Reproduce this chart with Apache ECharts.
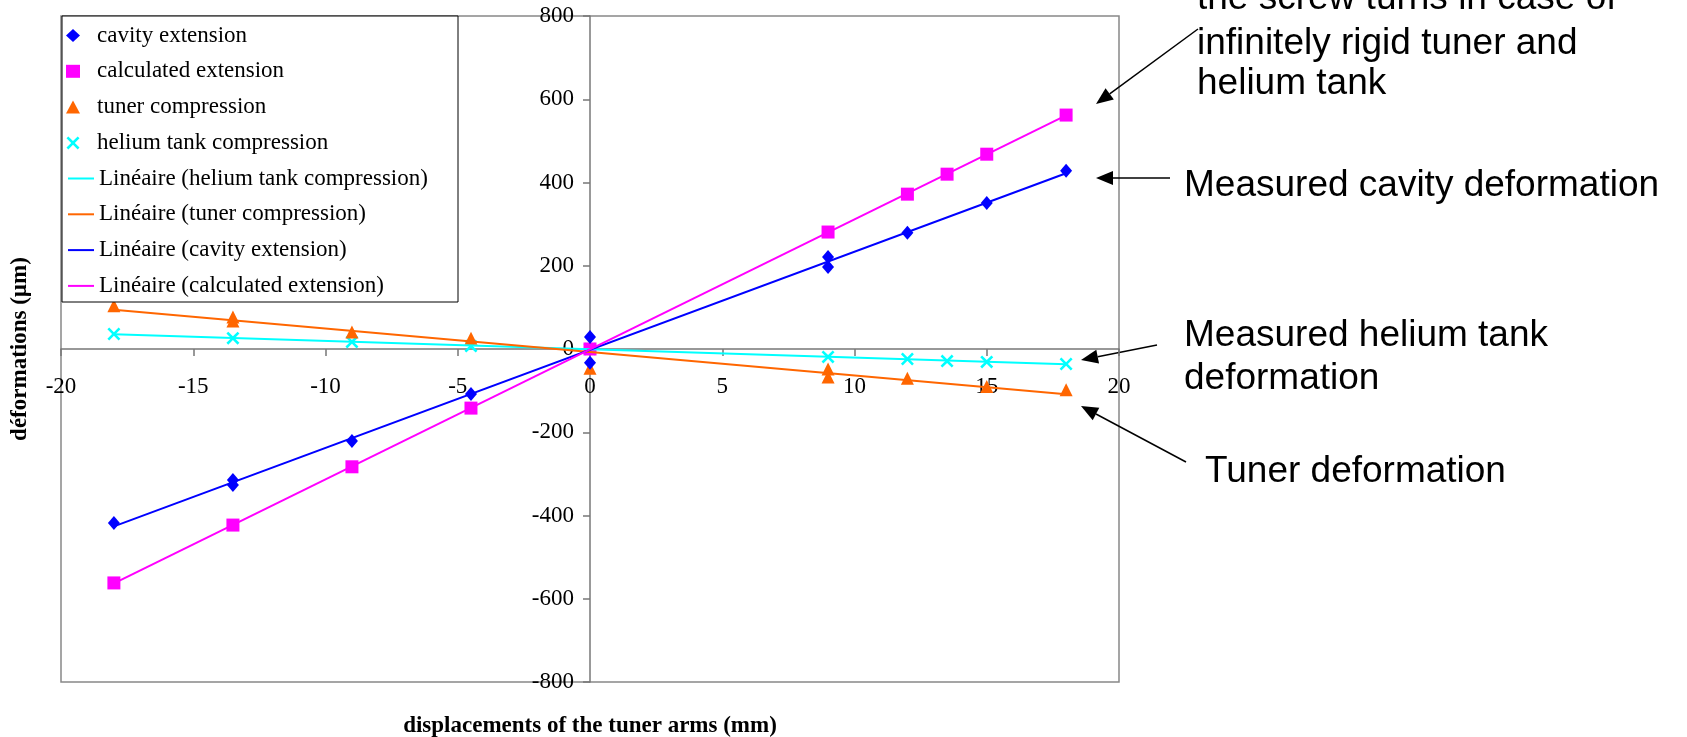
<!DOCTYPE html>
<html>
<head>
<meta charset="utf-8">
<script src="https://cdn.jsdelivr.net/npm/echarts@6/dist/echarts.min.js"></script>
<style>
  html, body { margin: 0; padding: 0; background: #fff; }
  #chart { width: 1687px; height: 737px; }
</style>
</head>
<body>
<div id="chart"></div>
<script>
// measured points (x in mm, y in µm)
const cavityX = [-18, -13.5, -13.5, -9, -4.5, 0, 0, 9, 9, 12, 15, 18];
const cavityY = [-418, -315, -327, -221, -108, 29, -33, 221, 197, 279, 351, 428];
const calcX = [-18, -13.5, -9, -4.5, 0, 9, 12, 13.5, 15, 18];
const calcY = [-562, -423, -283, -142, 0, 281, 372, 420, 468, 562];
const tunerX = [-18, -13.5, -13.5, -9, -4.5, 0, 9, 9, 12, 15, 18];
const tunerY = [104, 77, 67, 41, 26, -46, -48, -67, -70, -90, -98];
const heliumX = [-18, -13.5, -9, -4.5, 0, 9, 12, 13.5, 15, 18];
const heliumY = [36, 26, 17, 7, 0, -19, -24, -29, -31, -36];

const serif = "Liberation Serif";
const sans = "Liberation Sans";

// plot box in pixels; axes are drawn through the origin (middle of the box)
const plot = { left: 61, right: 1119, top: 16, bottom: 682 };

function pairs(xs, ys) {
  return xs.map((x, i) => [x, ys[i]]);
}

// least squares line over the range of the points, like Excel's "Linéaire" trendline
function trend(xs, ys) {
  let n = xs.length, sx = 0, sy = 0, sxx = 0, sxy = 0;
  for (let i = 0; i < n; i++) {
    sx += xs[i]; sy += ys[i]; sxx += xs[i] * xs[i]; sxy += xs[i] * ys[i];
  }
  let b = (n * sxy - sx * sy) / (n * sxx - sx * sx);
  let a = (sy - b * sx) / n;
  let lo = Math.min(...xs), hi = Math.max(...xs);
  return [[lo, a + b * lo], [hi, a + b * hi]];
}

// annotation texts on the right
const notes = [
  { text: "the screw turns in case of", x: 1197, y: 1 },
  { text: "infinitely rigid tuner and", x: 1197, y: 46 },
  { text: "helium tank", x: 1197, y: 86 },
  { text: "Measured cavity deformation", x: 1184, y: 188 },
  { text: "Measured helium tank", x: 1184, y: 338 },
  { text: "deformation", x: 1184, y: 381 },
  { text: "Tuner deformation", x: 1205, y: 474 }
];
// [tailX, tailY, tipX, tipY]
const arrows = [
  [1198, 29, 1096, 104],
  [1170, 178, 1096, 178],
  [1157, 345, 1081, 360],
  [1186, 462, 1081, 406]
];

function arrow(a) {
  let [x1, y1, x2, y2] = a;
  let ang = Math.atan2(y2 - y1, x2 - x1);
  let len = 17, w = 7;
  let bx = x2 - len * Math.cos(ang), by = y2 - len * Math.sin(ang);
  let px = -Math.sin(ang) * w, py = Math.cos(ang) * w;
  return [
    { type: "line", shape: { x1: x1, y1: y1, x2: bx, y2: by }, style: { stroke: "#000", lineWidth: 1.5 } },
    { type: "polygon", shape: { points: [[x2, y2], [bx + px, by + py], [bx - px, by - py]] }, style: { fill: "#000" } }
  ];
}

const crossIcon = "path://M0,1.4L1.4,0L5,3.6L8.6,0L10,1.4L6.4,5L10,8.6L8.6,10L5,6.4L1.4,10L0,8.6L3.6,5Z";

let graphics = [
  {
    type: "rect", z: 3,
    shape: { x: 62, y: 16, width: 396, height: 286 },
    style: { fill: "#fff", stroke: "#000", lineWidth: 1 }
  }
];
notes.forEach(n => {
  graphics.push({
    type: "text", left: n.x, top: n.y - 21,
    style: { text: n.text, fill: "#000", font: "37px " + sans, textVerticalAlign: "top" }
  });
});
arrows.forEach(a => { graphics = graphics.concat(arrow(a)); });

let myChart = echarts.init(document.getElementById("chart"));

const legendText = { fontFamily: serif, fontSize: 23, color: "#000", lineHeight: 23 };

myChart.setOption({
  animation: false,
  backgroundColor: "#fff",
  grid: {
    left: plot.left, right: 1687 - plot.right, top: plot.top, bottom: 737 - plot.bottom,
    show: true, borderColor: "#888", borderWidth: 1.5, outerBoundsMode: "none"
  },
  legend: [
    {
      orient: "vertical", left: 66, top: 24, padding: 0,
      itemWidth: 14, itemHeight: 13, itemGap: 12.8, selectedMode: false, z: 5,
      data: ["cavity extension", "calculated extension", "tuner compression", "helium tank compression"],
      textStyle: Object.assign({ padding: [0, 0, 0, 12] }, legendText)
    },
    {
      orient: "vertical", left: 68, top: 167, padding: 0,
      icon: "rect", itemWidth: 26, itemHeight: 2, itemGap: 12.8, selectedMode: false, z: 5,
      data: ["Linéaire (helium tank compression)", "Linéaire (tuner compression)",
             "Linéaire (cavity extension)", "Linéaire (calculated extension)"],
      textStyle: legendText
    }
  ],
  xAxis: {
    type: "value", min: -20, max: 20, interval: 5,
    offset: -(plot.bottom - plot.top) / 2,
    name: "displacements of the tuner arms (mm)",
    nameLocation: "middle", nameGap: 366,
    nameTextStyle: { fontFamily: serif, fontSize: 23, fontWeight: "bold", color: "#000" },
    axisLine: { onZero: false, lineStyle: { color: "#777", width: 1.5 } },
    axisTick: { show: true, length: 7, lineStyle: { color: "#777", width: 1.5 } },
    axisLabel: { fontFamily: serif, fontSize: 23, color: "#000", margin: 26 },
    splitLine: { show: false }
  },
  yAxis: {
    type: "value", min: -800, max: 800, interval: 200,
    offset: -(plot.right - plot.left) / 2,
    name: "déformations (µm)",
    nameLocation: "middle", nameGap: 558,
    nameTextStyle: { fontFamily: serif, fontSize: 23, fontWeight: "bold", color: "#000" },
    axisLine: { onZero: false, lineStyle: { color: "#777", width: 1.5 } },
    axisTick: { show: true, length: 7, lineStyle: { color: "#777", width: 1.5 } },
    axisLabel: { fontFamily: serif, fontSize: 23, color: "#000", margin: 16 },
    splitLine: { show: false }
  },
  series: [
    {
      name: "Linéaire (helium tank compression)", type: "line", symbol: "none",
      data: trend(heliumX, heliumY), lineStyle: { color: "#00FFFF", width: 2 }, itemStyle: { color: "#00FFFF" }
    },
    {
      name: "Linéaire (tuner compression)", type: "line", symbol: "none",
      data: trend(tunerX, tunerY), lineStyle: { color: "#FF6600", width: 2 }, itemStyle: { color: "#FF6600" }
    },
    {
      name: "Linéaire (cavity extension)", type: "line", symbol: "none",
      data: trend(cavityX, cavityY), lineStyle: { color: "#0000FF", width: 2 }, itemStyle: { color: "#0000FF" }
    },
    {
      name: "Linéaire (calculated extension)", type: "line", symbol: "none",
      data: trend(calcX, calcY), lineStyle: { color: "#FF00FF", width: 2 }, itemStyle: { color: "#FF00FF" }
    },
    {
      name: "helium tank compression", type: "scatter", symbol: crossIcon, symbolSize: 13,
      data: pairs(heliumX, heliumY), itemStyle: { color: "#00FFFF", opacity: 1 }
    },
    {
      name: "tuner compression", type: "scatter", symbol: "triangle", symbolSize: [13, 13],
      data: pairs(tunerX, tunerY), itemStyle: { color: "#FF6600", opacity: 1 }
    },
    {
      name: "calculated extension", type: "scatter", symbol: "rect", symbolSize: 13,
      data: pairs(calcX, calcY), itemStyle: { color: "#FF00FF", opacity: 1 }
    },
    {
      name: "cavity extension", type: "scatter", symbol: "diamond", symbolSize: [12, 14],
      data: pairs(cavityX, cavityY), itemStyle: { color: "#0000FF", opacity: 1 }
    }
  ],
  graphic: graphics
});
</script>
</body>
</html>
